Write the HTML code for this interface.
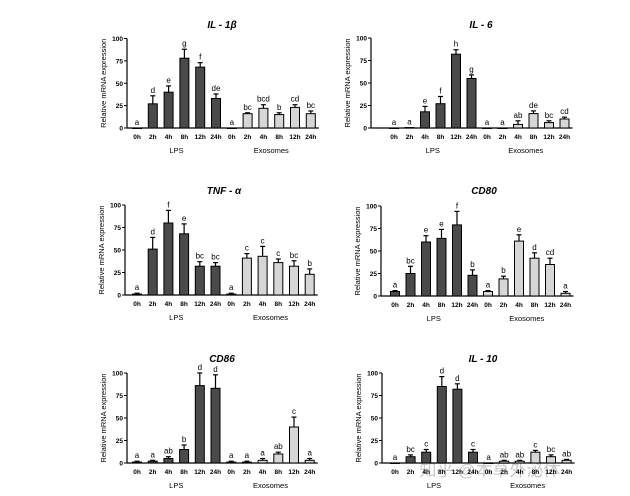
<!DOCTYPE html>
<html><head><meta charset="utf-8">
<style>
html,body{margin:0;padding:0;background:#fff;}
svg{display:block;font-family:"Liberation Sans",Arial,sans-serif;}
</style></head>
<body>
<svg id="chart" width="630" height="496" viewBox="0 0 630 496" xmlns="http://www.w3.org/2000/svg">
<text x="490" y="476" font-size="17" fill="#c8c8c8" font-family="'Liberation Sans','Noto Sans CJK SC',sans-serif" text-anchor="middle">知乎 @本草外泌体</text>
</svg>
<script>
const categories = ["0h","2h","4h","8h","12h","24h","0h","2h","4h","8h","12h","24h"];
const yTicks = [0,25,50,75,100];
const groupLabels = ["LPS","Exosomes"];

const il1bValues = [0,27,40,78,68,33, 0,16,22,15,23,16];
const il1bErrors = [0,9,7,10,5,5, 0,1,4,2,3,3];
const il1bLetters = ["a","d","e","g","f","de","a","bc","bcd","b","cd","bc"];

const il6Values = [0,0.5,18,27,82,55, 0,0,4,16,6,10];
const il6Errors = [0,0,6,8,5,4, 0,0,4,3,2,2];
const il6Letters = ["a","a","e","f","h","g","a","a","ab","de","bc","cd"];

const tnfValues = [1,51,80,68,32,32, 1,41,43,36,32,23];
const tnfErrors = [1,13,14,11,5,4, 1,5,11,4,6,6];
const tnfLetters = ["a","d","f","e","bc","bc","a","c","c","c","bc","b"];

const cd80Values = [5,25,60,64,79,23, 5,19,61,42,35,3];
const cd80Errors = [1,8,7,10,15,6, 1,3,7,6,7,2];
const cd80Letters = ["a","bc","e","e","f","b","a","b","e","d","cd","a"];

const cd86Values = [1,2,5,15,86,83, 1,1,3,10,40,3];
const cd86Errors = [1,1,2,5,14,15, 1,1,2,2,11,2];
const cd86Letters = ["a","a","ab","b","d","d","a","a","a","ab","c","a"];

const il10Values = [0,7,12,85,82,12, 0,2,2,12,7,3];
const il10Errors = [0,2,3,11,6,3, 0,1,1,2,2,1];
const il10Letters = ["a","bc","c","d","d","c","a","ab","ab","c","bc","ab"];

const NS = "http://www.w3.org/2000/svg";
const svg = document.getElementById("chart");
function mk(tag, attrs, parent){
  const e = document.createElementNS(NS, tag);
  for (const k in attrs) e.setAttribute(k, attrs[k]);
  (parent||svg).appendChild(e);
  return e;
}

function drawPanel(key, title, values, errors, letters, g){
  const grp = mk("g", {});
  
  
  const yScale = v => g.y0 - (g.y0 - g.y100) * v / 100;
  const xScale = i => g.x0 + i * g.dx;
  const bw = 9;
  // title
  const t = mk("text", {x: g.tx, y: g.ty, "font-size": 10, "font-weight": "bold", "font-style": "italic", "text-anchor": "middle"}, grp);
  t.textContent = title;
  
  
  // y-axis
  const ya = mk("line", {x1: g.ax, x2: g.ax, y1: g.y100, y2: g.y0, stroke: "#000", "stroke-width": 1.2}, grp);
  
  
  yTicks.forEach(v => {
    const y = yScale(v);
    mk("line", {x1: g.ax - 3, x2: g.ax, y1: y, y2: y, stroke: "#000", "stroke-width": 1}, grp);
    const tl = mk("text", {x: g.ax - 4, y: y + 2.5, "font-size": 6.5, "text-anchor": "end", "font-weight": "bold"}, grp);
    tl.textContent = v;
    
    
  });
  const yl = mk("text", {x: 0, y: 0, "font-size": 7.5, "text-anchor": "middle", transform: `translate(${g.ax - 21},${(g.y0 + g.y100) / 2}) rotate(-90)`}, grp);
  yl.textContent = "Relative mRNA expression";
  
  
  // x-axis
  const xa = mk("line", {x1: g.ax, x2: xScale(11) + 8, y1: g.y0, y2: g.y0, stroke: "#000", "stroke-width": 1.2}, grp);
  
  
  categories.forEach((c, i) => {
    const cx = xScale(i);
    const v = values[i], e = errors[i];
    const yTop = yScale(v);
    const r = mk("rect", {x: cx - bw/2, y: yTop, width: bw, height: Math.max(g.y0 - yTop, 0.5), fill: i < 6 ? "#4a4a4a" : "#d6d6d6", stroke: "#000", "stroke-width": 1}, grp);
    
    
    let top = yTop;
    if (e > 0) {
      const ye = yScale(v + e);
      top = ye;
      const el = mk("line", {x1: cx, x2: cx, y1: yTop, y2: ye, stroke: "#000", "stroke-width": 1.2}, grp);
      
      
      mk("line", {x1: cx - 2.5, x2: cx + 2.5, y1: ye, y2: ye, stroke: "#000", "stroke-width": 1.2}, grp);
    }
    const lt = mk("text", {x: cx, y: top - 3, "font-size": 8, "text-anchor": "middle"}, grp);
    lt.textContent = letters[i];
    
    
    const xl = mk("text", {x: cx, y: g.y0 + 11, "font-size": 6.5, "font-weight": "bold", "text-anchor": "middle"}, grp);
    xl.textContent = c;
    
    
  });
  groupLabels.forEach((gl, k) => {
    const cx = (xScale(k * 6) + xScale(k * 6 + 5)) / 2;
    const tx = mk("text", {x: cx, y: g.y0 + 25, "font-size": 7.5, "text-anchor": "middle"}, grp);
    tx.textContent = gl;
    
    
  });
}

drawPanel("il-1b", "IL - 1β", il1bValues, il1bErrors, il1bLetters, {ax:127, y100:38.5, y0:128, x0:137, dx:15.8, tx:222, ty:28});
drawPanel("il-6", "IL - 6", il6Values, il6Errors, il6Letters, {ax:371, y100:38, y0:128, x0:394, dx:15.5, tx:481, ty:28});
drawPanel("tnf-a", "TNF - α", tnfValues, tnfErrors, tnfLetters, {ax:125, y100:205, y0:295, x0:137, dx:15.7, tx:224, ty:194});
drawPanel("cd80", "CD80", cd80Values, cd80Errors, cd80Letters, {ax:381, y100:206, y0:296, x0:395, dx:15.5, tx:484, ty:194});
drawPanel("cd86", "CD86", cd86Values, cd86Errors, cd86Letters, {ax:127, y100:373, y0:463, x0:137, dx:15.7, tx:222, ty:362});
drawPanel("il-10", "IL - 10", il10Values, il10Errors, il10Letters, {ax:382, y100:373, y0:463, x0:395, dx:15.6, tx:483, ty:362});
</script>
</body></html>
